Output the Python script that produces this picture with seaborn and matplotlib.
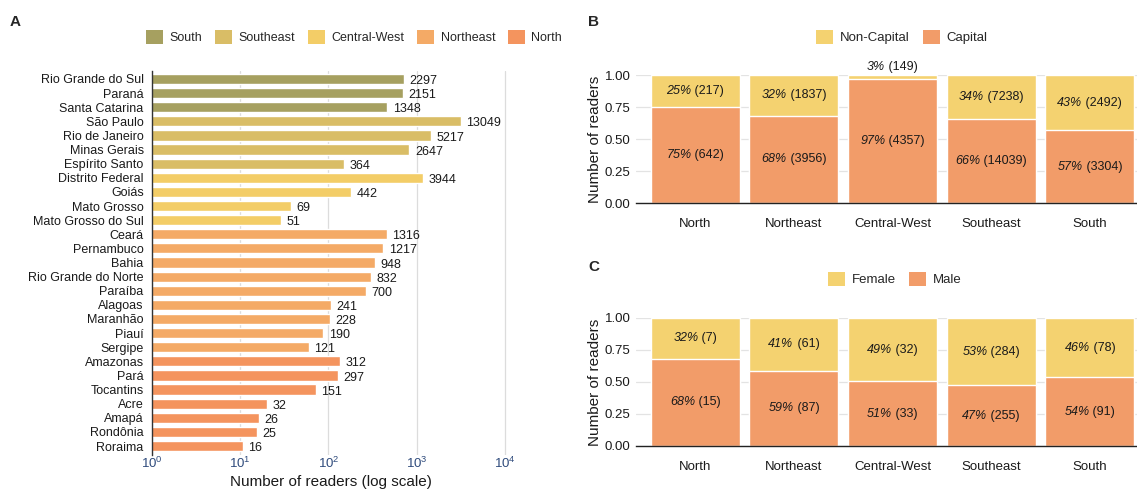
import numpy as np
import pandas as pd
import matplotlib
matplotlib.use("Agg")
import matplotlib.pyplot as plt
from matplotlib.patches import Patch
from matplotlib.transforms import offset_copy
import seaborn as sns

# ---- Panel A data: readers per state ----
states = ["Rio Grande do Sul", "Paraná", "Santa Catarina", "São Paulo", "Rio de Janeiro",
          "Minas Gerais", "Espírito Santo", "Distrito Federal", "Goiás", "Mato Grosso",
          "Mato Grosso do Sul", "Ceará", "Pernambuco", "Bahia", "Rio Grande do Norte",
          "Paraíba", "Alagoas", "Maranhão", "Piauí", "Sergipe", "Amazonas", "Pará",
          "Tocantins", "Acre", "Amapá", "Rondônia", "Roraima"]
state_region = ["South"] * 3 + ["Southeast"] * 4 + ["Central-West"] * 4 + \
               ["Northeast"] * 9 + ["North"] * 7
# printed labels
state_readers = [2297, 2151, 1348, 13049, 5217, 2647, 364, 3944, 442, 69, 51, 1316, 1217,
                 948, 832, 700, 241, 228, 190, 121, 312, 297, 151, 32, 26, 25, 16]
bar_axis_value = [722, 695, 467, 3185, 1467, 832, 152, 1169, 180, 37.8, 29, 459, 421,
                  339, 308, 265, 107, 104, 88, 60, 134, 128, 72, 19.9, 16.3, 15.5, 10.7]

region_order = ["South", "Southeast", "Central-West", "Northeast", "North"]
region_colors = ["#a6a060", "#d9bd66", "#f3cd67", "#f4aa66", "#f4945e"]

# ---- Panel B data: capital vs non-capital ----
regions = ["North", "Northeast", "Central-West", "Southeast", "South"]
capital = [642, 3956, 4357, 14039, 3304]
non_capital = [217, 1837, 149, 7238, 2492]

# ---- Panel C data: gender ----
male = [15, 87, 33, 255, 91]
female = [7, 61, 32, 284, 78]

top_color = "#f4d270"
bottom_color = "#f29c69"
text_color = "#1a1a1a"

W, H = 1137, 491
sns.set_theme(style="white")
plt.rcParams["font.family"] = ["Liberation Sans", "DejaVu Sans"]
plt.rcParams["mathtext.fontset"] = "custom"
plt.rcParams["mathtext.rm"] = "Liberation Sans"

fig = plt.figure(figsize=(W / 100, H / 100), dpi=100)
renderer = fig.canvas.get_renderer()


def box(l, r, t, b):
    return [l / W, 1 - b / H, (r - l) / W, (b - t) / H]


# ================= Panel A =================
axA = fig.add_axes(box(152, 510, 70.5, 454.5))
dfA = pd.DataFrame({"state": states, "region": state_region,
                    "bar": bar_axis_value, "readers": state_readers})
sns.barplot(data=dfA, y="state", x="bar", hue="region", order=states,
            hue_order=region_order, palette=dict(zip(region_order, region_colors)),
            saturation=1, dodge=False, width=0.72, legend=False, ax=axA, zorder=2)
axA.set_xscale("log")
axA.set_xlim(1, 10 ** 4.06)
axA.set_ylim(len(states) - 0.4, -0.6)
axA.set_xticks([1, 10, 100, 1000, 10000])
axA.set_xticklabels([r"$10^{%d}$" % k for k in range(5)])
axA.xaxis.set_minor_locator(matplotlib.ticker.NullLocator())
axA.grid(axis="x", color="#dcdcdc", lw=0.9, zorder=0)
axA.set_axisbelow(True)
for s in ["top", "right", "bottom"]:
    axA.spines[s].set_visible(False)
axA.spines["left"].set_color("#333333")
axA.spines["left"].set_linewidth(1.0)
axA.tick_params(axis="y", length=0, pad=6, labelsize=9, labelcolor=text_color)
axA.tick_params(axis="x", length=0, pad=1, labelsize=9.5, labelcolor="#2f4b7c")
axA.set_ylabel("")
axA.set_xlabel("Number of readers (log scale)", fontsize=11, labelpad=3, color=text_color)
for i, (b, lab) in enumerate(zip(bar_axis_value, state_readers)):
    axA.annotate(str(lab), xy=(b, i), xytext=(4, -1.5), textcoords="offset points",
                 ha="left", va="center", fontsize=9, color=text_color)

fig.legend(handles=[Patch(facecolor=c, edgecolor="none") for c in region_colors],
           labels=region_order, loc="center", bbox_to_anchor=(354 / W, 1 - 37 / H),
           ncol=5, frameon=False, fontsize=9, handlelength=1.4, handleheight=1.4,
           handletextpad=0.5, columnspacing=1.0)
fig.text(10 / W, 1 - 22 / H, "A", fontsize=11, fontweight="bold", va="center")


def mixed_label(ax, x, y, pct, count):
    # italic percentage followed by regular count, centred together on (x, y)
    t1 = ax.text(x, y, "%d%%" % pct, style="italic", ha="left", va="center",
                 fontsize=9, color=text_color, zorder=6, clip_on=False)
    t2 = ax.text(x, y, " (%d)" % count, ha="left", va="center",
                 fontsize=9, color=text_color, zorder=6, clip_on=False)
    w1 = t1.get_window_extent(renderer).width
    w2 = t2.get_window_extent(renderer).width
    total = w1 + w2
    t1.set_transform(offset_copy(ax.transData, fig=fig, x=-total / 2, units="dots"))
    t2.set_transform(offset_copy(ax.transData, fig=fig, x=-total / 2 + w1, units="dots"))


# ================= Panels B & C =================
def stacked(ax, bottom_counts, top_counts, bottom_name, top_name, legend_x, legend_y):
    bottom_counts = np.array(bottom_counts, dtype=float)
    top_counts = np.array(top_counts, dtype=float)
    total = bottom_counts + top_counts
    share_bottom = bottom_counts / total
    share_top = top_counts / total
    df = pd.DataFrame({"region": regions, "full": total / total, "bottom": share_bottom})
    sns.barplot(data=df, x="region", y="full", color=top_color, saturation=1,
                width=0.9, ax=ax, zorder=2)
    sns.barplot(data=df, x="region", y="bottom", color=bottom_color, saturation=1,
                width=0.9, ax=ax, zorder=3)
    ax.set_xlim(-0.6, 4.6)
    ax.set_ylim(0, 1)
    ax.set_yticks([0, 0.25, 0.5, 0.75, 1.0])
    ax.set_yticklabels(["0.00", "0.25", "0.50", "0.75", "1.00"])
    ax.grid(axis="y", color="#e3e3e3", lw=0.9, zorder=0)
    ax.set_axisbelow(True)
    for s in ["top", "right", "left"]:
        ax.spines[s].set_visible(False)
    ax.spines["bottom"].set_color("#222222")
    ax.spines["bottom"].set_linewidth(1.0)
    ax.spines["bottom"].set_zorder(5)
    ax.tick_params(axis="y", length=0, pad=4, labelsize=9.5, labelcolor=text_color)
    ax.tick_params(axis="x", length=0, pad=11, labelsize=9.5, labelcolor=text_color)
    ax.set_xlabel("")
    ax.set_ylabel("Number of readers", fontsize=11, labelpad=2, color=text_color)
    for i in range(len(regions)):
        mixed_label(ax, i, share_bottom[i] / 2,
                    int(round(share_bottom[i] * 100)), bottom_counts[i])
        y_top = share_bottom[i] + share_top[i] / 2
        if share_top[i] < 0.05:
            y_top = 1.06
        mixed_label(ax, i, y_top, int(round(share_top[i] * 100)), top_counts[i])
    fig.legend(handles=[Patch(facecolor=top_color, edgecolor="none"),
                        Patch(facecolor=bottom_color, edgecolor="none")],
               labels=[top_name, bottom_name], loc="center",
               bbox_to_anchor=(legend_x / W, 1 - legend_y / H), ncol=2, frameon=False,
               fontsize=9.5, handlelength=1.3, handleheight=1.3, handletextpad=0.5,
               columnspacing=1.0)


axB = fig.add_axes(box(636, 1149, 75, 203))
stacked(axB, capital, non_capital, "Capital", "Non-Capital", 902, 37)
fig.text(588 / W, 1 - 22 / H, "B", fontsize=11, fontweight="bold", va="center")

axC = fig.add_axes(box(636, 1149, 318, 446))
stacked(axC, male, female, "Male", "Female", 895, 279)
fig.text(588 / W, 1 - 267 / H, "C", fontsize=11, fontweight="bold", va="center")

fig.savefig("out.png", dpi=100)
